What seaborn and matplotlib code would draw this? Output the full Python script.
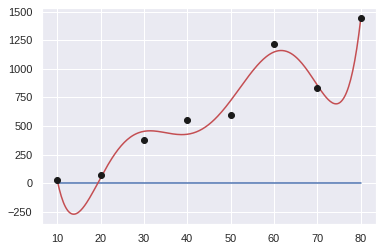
import numpy as np
import matplotlib
matplotlib.use("Agg")
import matplotlib.pyplot as plt
import seaborn as sns

x_vals = [10, 20, 30, 40, 50, 60, 70, 80]
y_vals = [25, 70, 380, 550, 600, 1220, 830, 1445]
baseline = [0, 0, 0, 0, 0, 0, 0, 0]
degree = 6

sns.set_theme(color_codes=True)
plt.rcParams['font.family'] = ['Liberation Sans', 'DejaVu Sans']
fig = plt.figure(figsize=(383/72, 251/72), dpi=72)
ax = fig.add_axes([42/383, 27/251, 334/383, 216/251])

x = np.array(x_vals, dtype=float)
y = np.array(y_vals, dtype=float)
coef = np.polyfit(x, y, degree)
xs = np.linspace(x.min(), x.max(), 300)
ys = np.polyval(coef, xs)

sns.lineplot(x=x_vals, y=baseline, color="b", ax=ax)
sns.lineplot(x=xs, y=ys, color="r", ax=ax)
ax.scatter(x_vals, y_vals, color="k", s=36, zorder=3)

ax.set_yticks([-250, 0, 250, 500, 750, 1000, 1250, 1500])
ax.set_xticks([10, 20, 30, 40, 50, 60, 70, 80])
fig.savefig("out.png", dpi=72)
